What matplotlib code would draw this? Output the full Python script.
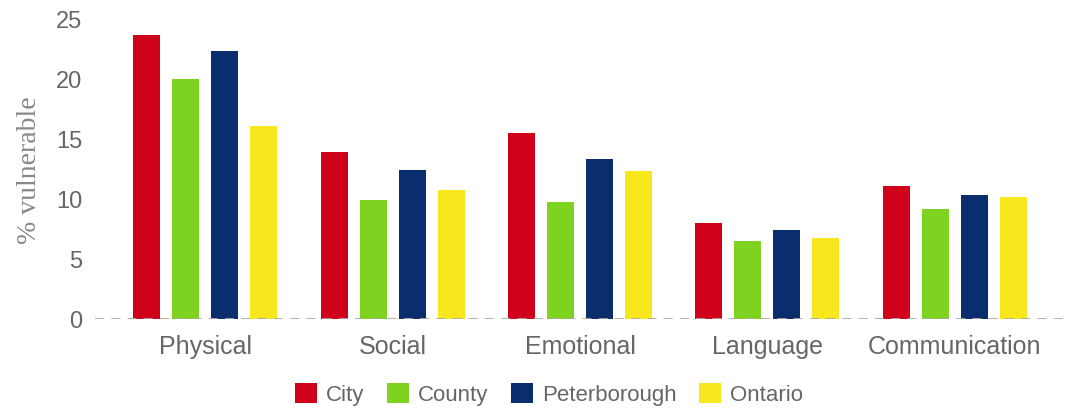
import matplotlib.pyplot as plt
import numpy as np

categories = ['Physical', 'Social', 'Emotional', 'Language', 'Communication']
series = ['City', 'County', 'Peterborough', 'Ontario']
city = [23.7, 13.9, 15.5, 8.0, 11.1]
county = [20.0, 9.9, 9.75, 6.5, 9.2]
peterborough = [22.3, 12.4, 13.3, 7.4, 10.35]
ontario = [16.1, 10.75, 12.3, 6.75, 10.2]
colors = ['#D0021B', '#7ED321', '#0A2D6E', '#F8E71C']

plt.rcParams['font.family'] = ['Liberation Sans', 'DejaVu Sans']

fig = plt.figure(figsize=(10.73, 4.10), dpi=100)
ax = fig.add_axes([95/1073, 90/410, 970/1073, 300/410])

x = np.arange(len(categories))
width = 0.144
step = 0.208
for i, (vals, name) in enumerate(zip([city, county, peterborough, ontario], series)):
    ax.bar(x + (i - 1.5) * step, vals, width, color=colors[i], label=name, zorder=2)

ax.set_xlim(-0.587, 4.587)
ax.set_ylim(0, 25)
ax.set_yticks([0, 5, 10, 15, 20, 25])
ax.set_xticks(x)
ax.set_xticklabels(categories)
ax.tick_params(axis='both', length=0, colors='#666666')
ax.tick_params(axis='y', pad=9, labelsize=17)
ax.tick_params(axis='x', pad=11, labelsize=18)
for s in ax.spines.values():
    s.set_visible(False)
ax.axhline(0, color='#aaaaaa', linestyle=(0, (5, 4)), linewidth=1.3, zorder=3)
ax.set_ylabel('% vulnerable', family='Liberation Serif', fontsize=20, color='#888888', labelpad=10)

ax.legend(loc='center', bbox_to_anchor=(0.468, -0.25), ncol=4, frameon=False,
          fontsize=16, labelcolor='#666666', handlelength=1.0, handleheight=1.0,
          handletextpad=0.4, columnspacing=1.0)

fig.savefig('out.png', dpi=100)
